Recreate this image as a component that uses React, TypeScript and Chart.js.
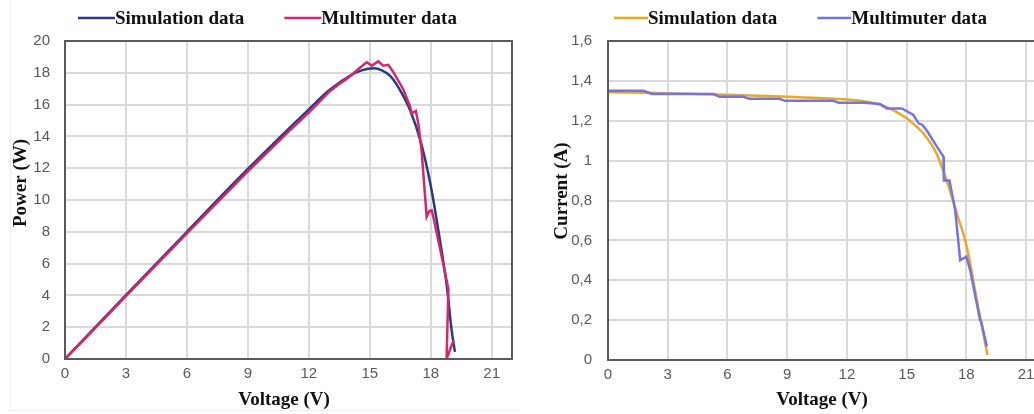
import React, { useEffect, useRef } from "react";
import { Chart, registerables } from "chart.js";

Chart.register(...registerables);

// ---------- shared ----------
const voltageTicks = [0, 3, 6, 9, 12, 15, 18, 21];
const seriesLabels = ["Simulation data", "Multimuter data"];

// ---------- left chart: Power (W) vs Voltage (V) ----------
const simPowerV = [0, 3, 6, 9, 12, 13, 14, 14.6, 15.2, 15.6, 16.0, 16.4, 17.0, 17.5, 18.0, 18.45, 18.8, 19.03, 19.19];
const simPowerP = [0, 4.02, 8.0, 11.95, 15.7, 16.9, 17.8, 18.15, 18.28, 18.15, 17.8, 17.1, 15.6, 13.7, 10.9, 7.5, 4.5, 1.8, 0.45];

const measPowerV = [0, 1, 3, 6, 9, 11, 12, 13, 13.5, 13.85, 14.05, 14.5, 14.85, 15.1, 15.42, 15.66, 15.91, 16.15, 16.65, 16.98, 17.06, 17.27, 17.39, 17.55, 17.8, 17.93, 18.05, 18.15, 18.45, 18.87, 18.78, 19.13];
const measPowerP = [0, 1.3, 3.95, 7.9, 11.8, 14.3, 15.5, 16.8, 17.3, 17.6, 17.8, 18.3, 18.66, 18.45, 18.72, 18.45, 18.5, 18.07, 16.95, 15.9, 15.45, 15.6, 14.8, 13.1, 8.95, 9.3, 9.35, 8.8, 7.0, 4.4, 0.0, 1.2];

// ---------- right chart: Current (A) vs Voltage (V) ----------
const simCurrentV = [0, 3, 6, 9, 12, 13, 13.7, 14.3, 15.0, 15.5, 15.84, 16.5, 17.0, 17.52, 18.02, 18.53, 19.06];
const simCurrentI = [1.343, 1.338, 1.33, 1.32, 1.307, 1.295, 1.279, 1.255, 1.212, 1.17, 1.137, 1.036, 0.903, 0.735, 0.568, 0.3, 0.025];

const measCurrentV = [0, 1.8, 2.2, 5.3, 5.6, 6.8, 7.1, 8.6, 8.9, 11.3, 11.6, 12.9, 13.67, 14.0, 14.76, 15.34, 15.6, 15.8, 16.1, 16.52, 16.85, 16.87, 17.15, 17.44, 17.69, 18.0, 18.19, 18.69, 18.75, 19.03];
const measCurrentI = [1.35, 1.35, 1.334, 1.334, 1.32, 1.32, 1.31, 1.31, 1.3, 1.3, 1.29, 1.29, 1.284, 1.262, 1.262, 1.229, 1.187, 1.179, 1.137, 1.07, 1.02, 0.9, 0.9, 0.752, 0.5, 0.518, 0.451, 0.2, 0.19, 0.067];

const zip = (xs: number[], ys: number[]) => xs.map((x, i) => ({ x, y: ys[i] }));

const TICK_FONT = { family: "'Liberation Sans', Arial, sans-serif", size: 15 };
const BOLD_SERIF = "bold 19px 'Liberation Serif', 'Times New Roman', serif";

const decorPlugin = {
  id: "decor",
  afterDraw(chart: any, _args: any, opts: any) {
    const { ctx, chartArea: a } = chart;
    ctx.save();
    // plot frame
    ctx.strokeStyle = "#5a5a5a";
    ctx.lineWidth = 2;
    ctx.strokeRect(a.left, a.top, a.right - a.left, a.bottom - a.top);
    // legend
    ctx.font = BOLD_SERIF;
    ctx.textBaseline = "middle";
    ctx.textAlign = "left";
    let x = opts.legendX;
    const y = opts.legendY;
    chart.data.datasets.forEach((ds: any) => {
      ctx.strokeStyle = ds.borderColor;
      ctx.lineWidth = 2.5;
      ctx.beginPath();
      ctx.moveTo(x, y);
      ctx.lineTo(x + opts.sample, y);
      ctx.stroke();
      x += opts.sample;
      ctx.fillStyle = "#111";
      ctx.fillText(ds.label, x, y + 1);
      x += ctx.measureText(ds.label).width + opts.gap;
    });
    // x title
    ctx.textAlign = "center";
    ctx.fillStyle = "#111";
    ctx.fillText(opts.xTitle, opts.xTitleX, opts.xTitleY);
    // y title
    ctx.translate(opts.yTitleX, opts.yTitleY);
    ctx.rotate(-Math.PI / 2);
    ctx.fillText(opts.yTitle, 0, 0);
    ctx.restore();
  },
};

type Cfg = {
  width: number;
  height: number;
  sim: { x: number; y: number }[];
  meas: { x: number; y: number }[];
  simColor: string;
  measColor: string;
  yMax: number;
  yStep: number;
  yAxisWidth: number;
  yTickPad: number;
  padRight: number;
  padBottom: number;
  decimalComma: boolean;
  decor: any;
};

function PVChart(props: Cfg) {
  const ref = useRef<HTMLCanvasElement | null>(null);
  useEffect(() => {
    if (!ref.current) return;
    const chart = new Chart(ref.current, {
      type: "scatter",
      data: {
        datasets: [
          {
            label: seriesLabels[0],
            data: props.sim,
            showLine: true,
            borderColor: props.simColor,
            backgroundColor: props.simColor,
            borderWidth: 2.5,
            pointRadius: 0,
            cubicInterpolationMode: "monotone",
            order: 1,
          },
          {
            label: seriesLabels[1],
            data: props.meas,
            showLine: true,
            borderColor: props.measColor,
            backgroundColor: props.measColor,
            borderWidth: 2.5,
            pointRadius: 0,
            tension: 0,
            order: 0,
          },
        ],
      },
      options: {
        animation: false,
        responsive: false,
        maintainAspectRatio: false,
        layout: { padding: { left: 0, top: 41, right: props.padRight, bottom: props.padBottom } },
        plugins: {
          legend: { display: false },
          tooltip: { enabled: false },
          decor: props.decor,
        } as any,
        scales: {
          x: {
            type: "linear",
            min: 0,
            max: 22,
            afterBuildTicks: (s: any) => {
              s.ticks = voltageTicks.map((v) => ({ value: v }));
            },
            afterFit: (s: any) => {
              s.height = 30;
            },
            grid: { color: "#d9d9d9", lineWidth: 2, drawTicks: false },
            border: { display: false },
            ticks: {
              color: "#595959",
              font: TICK_FONT,
              padding: 6,
              maxRotation: 0,
              autoSkip: false,
            },
          },
          y: {
            type: "linear",
            min: 0,
            max: props.yMax,
            afterFit: (s: any) => {
              s.width = props.yAxisWidth;
            },
            grid: { color: "#d9d9d9", lineWidth: 2, drawTicks: false },
            border: { display: false },
            ticks: {
              stepSize: props.yStep,
              color: "#595959",
              font: TICK_FONT,
              padding: props.yTickPad,
              callback: (v: any) => {
                const n = Math.round(Number(v) * 10) / 10;
                return props.decimalComma ? String(n).replace(".", ",") : String(n);
              },
            },
          },
        },
      },
      plugins: [decorPlugin],
    });
    return () => chart.destroy();
  }, []);
  return (
    <canvas
      ref={ref}
      width={props.width}
      height={props.height}
      style={{ width: props.width, height: props.height, display: "block" }}
    />
  );
}

export default function App() {
  return (
    <div
      style={{
        position: "fixed",
        left: 0,
        top: 0,
        width: 1034,
        height: 414,
        overflow: "hidden",
        background: "#fff",
      }}
    >
      <div
        style={{
          position: "absolute",
          left: 10,
          top: 0,
          width: 510,
          height: 411,
          borderLeft: "1px solid #eeeeee",
          borderBottom: "1px solid #eeeeee",
          boxSizing: "border-box",
        }}
      />
      <div style={{ position: "absolute", left: 0, top: 0 }}>
        <PVChart
          width={520}
          height={414}
          sim={zip(simPowerV, simPowerP)}
          meas={zip(measPowerV, measPowerP)}
          simColor="#263b80"
          measColor="#d6266b"
          yMax={20}
          yStep={2}
          yAxisWidth={65}
          yTickPad={15}
          padRight={8}
          padBottom={25}
          decimalComma={false}
          decor={{
            legendX: 78,
            legendY: 18,
            sample: 37,
            gap: 40,
            xTitle: "Voltage (V)",
            xTitleX: 284,
            xTitleY: 400,
            yTitle: "Power (W)",
            yTitleX: 21,
            yTitleY: 183,
          }}
        />
      </div>
      <div style={{ position: "absolute", left: 520, top: 0 }}>
        <PVChart
          width={534}
          height={414}
          sim={zip(simCurrentV, simCurrentI)}
          meas={zip(measCurrentV, measCurrentI)}
          simColor="#e8a824"
          measColor="#7373e4"
          yMax={1.6}
          yStep={0.2}
          yAxisWidth={88}
          yTickPad={16}
          padRight={8}
          padBottom={24}
          decimalComma={true}
          decor={{
            legendX: 94,
            legendY: 18,
            sample: 34,
            gap: 40,
            xTitle: "Voltage (V)",
            xTitleX: 302,
            xTitleY: 400,
            yTitle: "Current (A)",
            yTitleX: 42,
            yTitleY: 191,
          }}
        />
      </div>
    </div>
  );
}
